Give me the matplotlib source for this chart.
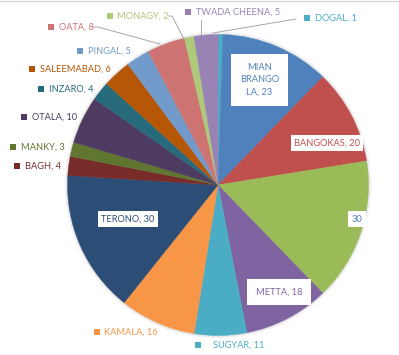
import matplotlib
matplotlib.use("Agg")
import matplotlib.pyplot as plt
from matplotlib.patches import Circle

plt.rcParams['font.family'] = ['Lato', 'DejaVu Sans']

categories = ["DOGAL", "MIAN BRANGOLA", "BANGOKAS", "", "METTA", "SUGYAR", "KAMALA",
              "TERONO", "BAGH", "MANKY", "OTALA", "INZARO", "SALEEMABAD", "PINGAL",
              "OATA", "MONAGY", "TWADA CHEENA"]
values = [1, 23, 20, 30, 18, 11, 16, 30, 4, 3, 10, 4, 6, 5, 8, 2, 5]
colors = ["#4bacc6", "#4f81bd", "#c0504d", "#9bbb59", "#8064a2", "#4bacc6", "#f79646",
          "#2c4d75", "#772c2a", "#5f7530", "#4d3b62", "#276a7c", "#b65708", "#729aca",
          "#cd7371", "#afc97a", "#9983b5"]
label_colors = ["#4bacc6", "#4f81bd", "#c0504d", "#4f81bd", "#8064a2", "#4bacc6", "#f79646",
                "#2c4d75", "#772c2a", "#5f7530", "#4d3b62", "#276a7c", "#b65708", "#729aca",
                "#cd7371", "#afc97a", "#9983b5"]

W, H = 399, 355
def Y(y):
    return H - y

fig = plt.figure(figsize=(W / 100, H / 100), dpi=100)
ax = fig.add_axes([0, 0, 1, 1])

cx, cy, r = 218, 185, 150.5
# soft shadow
for k in range(1, 4):
    ax.add_patch(Circle((cx, Y(cy)), r + k, color="#000000", alpha=0.035, zorder=0, lw=0))

ax.pie(values, colors=colors, startangle=90, counterclock=False,
       center=(cx, Y(cy)), radius=r, wedgeprops=dict(linewidth=0.3, edgecolor=None),
       frame=True)
for w, c in zip(ax.patches[3:], colors):
    w.set_edgecolor(c)
ax.set_xlim(0, W)
ax.set_ylim(0, H)
ax.set_aspect('auto')
ax.axis('off')

# top border line
ax.plot([0, W], [Y(0.8), Y(0.8)], color="#d9d9d9", lw=1, zorder=1)

fs = 6.7
# inside labels with white boxes: index -> (x, y, text)
inside = {
    1: (259.5, 80, "MIAN\nBRANGO\nLA, 23"),
    2: (327, 143, "BANGOKAS, 20"),
    3: (357, 219, "30"),
    4: (279, 292, "METTA, 18"),
    7: (128, 219, "TERONO, 30"),
}
pads = {1: 0.95, 2: 0.35, 3: 0.35, 4: 0.95, 7: 0.35}
for i, (x, y, t) in inside.items():
    ax.text(x, Y(y), t, ha="center", va="center", fontsize=fs, color=label_colors[i],
            linespacing=1.5, zorder=5,
            bbox=dict(boxstyle=f"square,pad={pads[i]}", fc="white", ec="none"))

# outside labels: index -> (square x, y, text x)
outside = {
    0: (307, 18, 315),
    16: (188, 12, 196),
    15: (109.5, 16, 117),
    14: (51, 27, 59),
    13: (80, 51, 88),
    12: (32, 69, 40),
    11: (41, 89, 49),
    10: (24, 117, 32),
    9: (13, 147, 21),
    8: (17, 166, 25),
    6: (97, 332, 104),
    5: (198, 345, 213),
}
for i, (sx, y, tx) in outside.items():
    ax.scatter([sx], [Y(y)], marker="s", s=14, color=colors[i], linewidths=0, zorder=5)
    ax.text(tx, Y(y), f"{categories[i]}, {values[i]}", ha="left", va="center",
            fontsize=fs, color=label_colors[i], zorder=5)

# leader lines
lc = "#a6a6a6"
ax.plot([213, 296], [Y(33), Y(19)], color=lc, lw=0.7, zorder=4)
ax.plot([201, 201], [Y(34), Y(20)], color=lc, lw=0.7, zorder=4)
ax.plot([169, 172, 184], [Y(16), Y(16), Y(39)], color=lc, lw=0.7, zorder=4)
ax.plot([94, 98, 160], [Y(27), Y(27), Y(44)], color=lc, lw=0.7, zorder=4)

fig.savefig("out.png", dpi=100)
